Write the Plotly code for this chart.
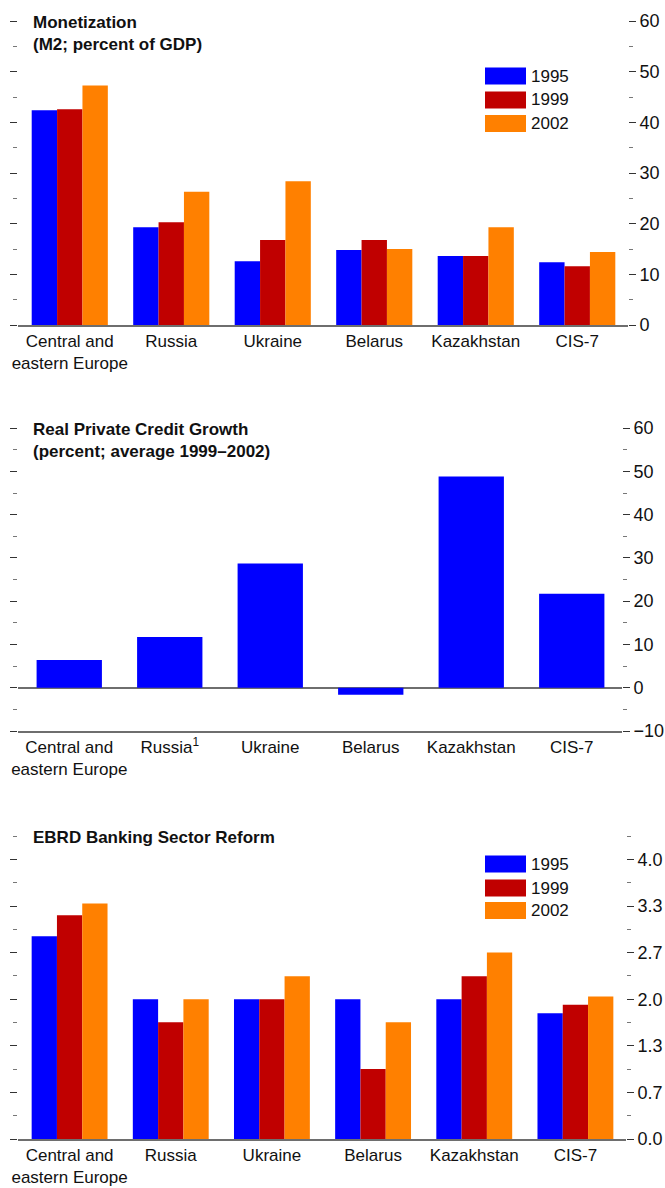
import plotly.graph_objects as go

# ---------------- data ----------------
categories = ["Central and<br>eastern Europe", "Russia", "Ukraine", "Belarus", "Kazakhstan", "CIS-7"]
categories_credit = ["Central and<br>eastern Europe", "Russia<sup>1</sup>", "Ukraine", "Belarus", "Kazakhstan", "CIS-7"]
years = ["1995", "1999", "2002"]

monetization_1995 = [42.4, 19.3, 12.6, 14.8, 13.6, 12.4]
monetization_1999 = [42.6, 20.3, 16.8, 16.8, 13.6, 11.6]
monetization_2002 = [47.3, 26.3, 28.4, 15.0, 19.3, 14.4]

credit_growth = [6.4, 11.7, 28.7, -1.6, 48.8, 21.7]

ebrd_1995 = [2.90, 2.00, 2.00, 2.00, 2.00, 1.80]
ebrd_1999 = [3.20, 1.67, 2.00, 1.00, 2.33, 1.92]
ebrd_2002 = [3.37, 2.00, 2.33, 1.67, 2.67, 2.04]

ebrd_tickvals = [0, 2 / 3, 4 / 3, 2, 8 / 3, 10 / 3, 4]
ebrd_ticktext = ["0.0", "0.7", "1.3", "2.0", "2.7", "3.3", "4.0"]

titles = {
    1: ["Monetization", "(M2; percent of GDP)"],
    2: ["Real Private Credit Growth", "(percent; average 1999\u20132002)"],
    3: ["EBRD Banking Sector Reform"],
}

# ---------------- styling ----------------
W, H = 665, 1188
FONT = "Liberation Sans, Arial, sans-serif"
FS = 17
TICK_FS = 18
COLORS = ["#0000FF", "#C00000", "#FF8000"]
TXT = "#111111"
LINE = "#6e6e6e"


def fx(p):
    return p / W


def fy(p):
    return 1 - p / H


fig = go.Figure()

# panel 1 bars
for name, vals, c in zip(years, [monetization_1995, monetization_1999, monetization_2002], COLORS):
    fig.add_trace(go.Bar(x=categories, y=vals, name=name, marker=dict(color=c, line=dict(width=0)),
                         xaxis="x", yaxis="y", showlegend=False))
# panel 2 bars
fig.add_trace(go.Bar(x=categories_credit, y=credit_growth, name="credit", width=0.65,
                     marker=dict(color=COLORS[0], line=dict(width=0)),
                     xaxis="x2", yaxis="y3", showlegend=False))
# panel 3 bars
for name, vals, c in zip(years, [ebrd_1995, ebrd_1999, ebrd_2002], COLORS):
    fig.add_trace(go.Bar(x=categories, y=vals, name=name, marker=dict(color=c, line=dict(width=0)),
                         xaxis="x3", yaxis="y5", showlegend=False))

# invisible helper traces so the right-hand (labelled) axes are drawn
for xa, ya, xs, ys in [("x", "y2", categories, monetization_1995),
                       ("x2", "y4", categories_credit, credit_growth),
                       ("x3", "y6", categories, ebrd_1995)]:
    fig.add_trace(go.Scatter(x=xs, y=ys, mode="none", hoverinfo="skip", showlegend=False,
                             xaxis=xa, yaxis=ya))

# panel geometry in pixels: top, bottom, left, right
panels = {
    1: (21, 325, 18, 628),
    2: (428, 731, 18, 622),
    3: (836, 1139, 18, 626),
}


def xaxis_def(p, anchor):
    t, b, l, r = panels[p]
    return dict(domain=[fx(l), fx(r)], range=[-0.51, 5.5], showgrid=False, zeroline=False,
                showline=True, linecolor=LINE, linewidth=1.6, ticks="", type="category",
                tickangle=0, automargin=False, anchor=anchor,
                tickfont=dict(family=FONT, size=FS, color=TXT), fixedrange=True)


def ydef(p, side, rng, dtick, minor_dtick, labels, tickvals=None, ticktext=None, zeroline=False):
    t, b, l, r = panels[p]
    d = dict(domain=[fy(b), fy(t)], range=rng, showgrid=False, zeroline=zeroline,
             zerolinecolor=LINE, zerolinewidth=1.6, showline=False, side=side,
             ticks="outside", ticklen=7, tickwidth=1.4, tickcolor="#333333",
             showticklabels=labels, tickfont=dict(family=FONT, size=TICK_FS, color=TXT),
             automargin=False,
             minor=dict(ticks="outside", ticklen=4, tickwidth=1.2, tickcolor="#777777",
                        tickmode="linear", tick0=0, dtick=minor_dtick, showgrid=False),
             fixedrange=True)
    if tickvals is not None:
        d.update(tickmode="array", tickvals=tickvals, ticktext=ticktext)
    else:
        d.update(tickmode="linear", tick0=0, dtick=dtick)
    return d


layout = dict(
    template="none",
    width=W, height=H, margin=dict(l=0, r=0, t=0, b=0, pad=0),
    paper_bgcolor="white", plot_bgcolor="white",
    barmode="group", bargap=0.25, bargroupgap=0.0,
    font=dict(family=FONT, size=FS, color=TXT),
    showlegend=False,
    xaxis=xaxis_def(1, "y"), xaxis2=xaxis_def(2, "y3"), xaxis3=xaxis_def(3, "y5"),
)

r1 = [0, 60.02]
layout["yaxis"] = ydef(1, "left", r1, 10, 5, False)
layout["yaxis"].update(anchor="x")
layout["yaxis2"] = ydef(1, "right", r1, 10, 5, True)
layout["yaxis2"].update(anchor="x", overlaying="y")

r2 = [-10, 60.02]
layout["yaxis3"] = ydef(2, "left", r2, 10, 5, False, zeroline=True)
layout["yaxis3"].update(anchor="x2")
layout["yaxis4"] = ydef(2, "right", r2, 10, 5, True)
layout["yaxis4"].update(anchor="x2", overlaying="y3")

r3 = [0, 13 / 3 + 0.002]
layout["yaxis5"] = ydef(3, "left", r3, None, 1 / 3, False, tickvals=ebrd_tickvals, ticktext=ebrd_ticktext)
layout["yaxis5"].update(anchor="x3")
layout["yaxis6"] = ydef(3, "right", r3, None, 1 / 3, True, tickvals=ebrd_tickvals, ticktext=ebrd_ticktext)
layout["yaxis6"].update(anchor="x3", overlaying="y5")

fig.update_layout(**layout)

# titles
title_y = {1: [23, 45], 2: [429, 451], 3: [837]}
for p, lines in titles.items():
    for line, yy in zip(lines, title_y[p]):
        fig.add_annotation(text="<b>" + line + "</b>", xref="paper", yref="paper",
                           x=fx(31), y=fy(yy), xanchor="left", yanchor="middle",
                           showarrow=False, font=dict(family=FONT, size=FS, color=TXT))

# legends (panels 1 and 3)
legend_rows = {1: [76, 100, 123.5], 3: [864, 888, 910.5]}
for p, rows in legend_rows.items():
    for name, c, yc in zip(years, COLORS, rows):
        fig.add_shape(type="rect", xref="paper", yref="paper",
                      x0=fx(485), x1=fx(526), y0=fy(yc + 8.5), y1=fy(yc - 8.5),
                      fillcolor=c, line=dict(width=0), layer="above")
        fig.add_annotation(text=name, xref="paper", yref="paper", x=fx(529), y=fy(yc),
                           xanchor="left", yanchor="middle", showarrow=False,
                           font=dict(family=FONT, size=FS, color=TXT))

fig.write_html(
    "out.html",
    config={"displayModeBar": False, "staticPlot": False},
    post_script="document.body.style.margin='0';document.body.style.padding='0';"
                "document.body.style.overflow='hidden';",
)
